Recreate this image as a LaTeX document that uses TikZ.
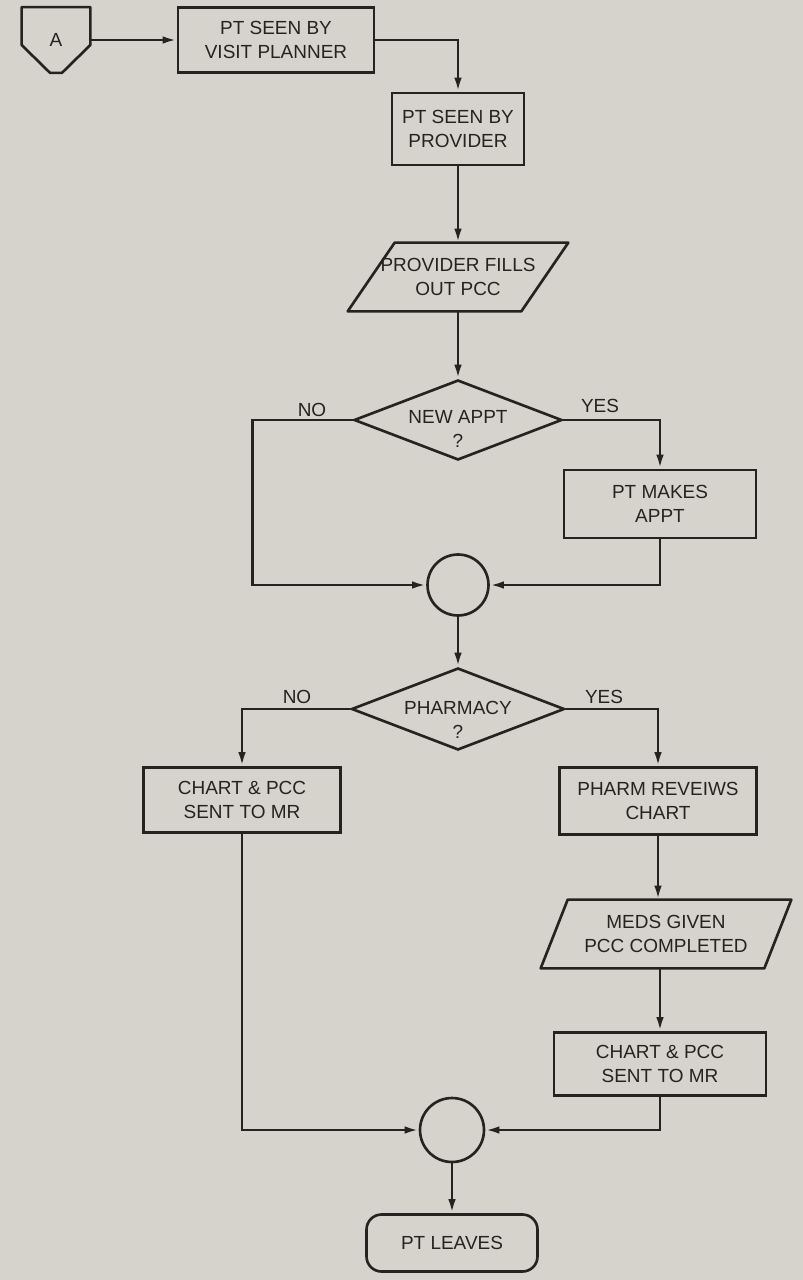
\documentclass[tikz,border=0pt]{standalone}
\usepackage{fontspec}
\setmainfont{Liberation Sans}
\usetikzlibrary{shapes.geometric,arrows.meta}
\definecolor{paper}{RGB}{214,211,204}
\definecolor{ink}{RGB}{38,34,32}

\begin{document}
\begin{tikzpicture}[x=0.02cm,y=-0.02cm,
  every node/.style={font=\fontsize{10.8}{13.6}\selectfont, text=ink, align=center, inner sep=0pt},
  proc/.style={draw=ink, line width=1.5pt, rectangle},
  io/.style={rectangle},
  slanted/.style={draw=ink, line width=1.5pt, line join=round},
  decision/.style={draw=ink, line width=1.5pt, diamond},
  junction/.style={draw=ink, line width=1.5pt, circle, minimum size=1.22cm},
  terminal/.style={draw=ink, line width=1.5pt, rectangle, rounded corners=0.3cm},
  flow/.style={draw=ink, line width=1.5pt, -{Latex[length=2.8mm,width=1.5mm]}}]
\fill[paper] (0,0) rectangle (803,1280);
\useasboundingbox (0,0) rectangle (803,1280);

\node (conA) at (56,40) [minimum width=1.36cm, minimum height=1.3cm] {A};
\draw[slanted] (conA.north west) -- (conA.north east) -- ([yshift=-0.1cm]conA.east)
  -- ([xshift=0.12cm]conA.south) -- ([xshift=-0.12cm]conA.south) -- ([yshift=-0.1cm]conA.west) -- cycle;

\node[proc, minimum width=3.92cm, minimum height=1.3cm] (visit) at (276,40) {PT SEEN BY\\VISIT PLANNER};
\node[proc, minimum width=2.64cm, minimum height=1.44cm] (provider) at (458,129) {PT SEEN BY\\PROVIDER};
\node[io, minimum width=3.46cm, minimum height=1.36cm] (fills) at (458,277) {PROVIDER FILLS\\OUT PCC};
\draw[slanted] ([xshift=-0.47cm]fills.south west) -- ([xshift=0.47cm]fills.north west)
  -- ([xshift=0.47cm]fills.north east) -- ([xshift=-0.47cm]fills.south east) -- cycle;
\node[decision, aspect=2.6, minimum width=4.16cm, minimum height=1.6cm,
  label={[yshift=-0.18cm]center:{NEW APPT\\?}}] (newappt) at (458,420) {};
\node[proc, minimum width=3.84cm, minimum height=1.36cm] (makes) at (660,504) {PT MAKES\\APPT};
\node[junction] (jn1) at (458,585) {};
\node[decision, aspect=2.6, minimum width=4.26cm, minimum height=1.64cm,
  label={[yshift=-0.22cm]center:{PHARMACY\\?}}] (pharmacy) at (458,709) {};
\node[proc, minimum width=3.94cm, minimum height=1.3cm] (sentA) at (242,800) {CHART \& PCC\\SENT TO MR};
\node[proc, minimum width=3.94cm, minimum height=1.34cm] (reviews) at (658,801) {PHARM REVEIWS\\CHART};
\node[io, minimum width=4.46cm, minimum height=1.36cm] (meds) at (666,934) {MEDS GIVEN\\PCC COMPLETED};
\draw[slanted] ([xshift=-0.27cm]meds.south west) -- ([xshift=0.27cm]meds.north west)
  -- ([xshift=0.27cm]meds.north east) -- ([xshift=-0.27cm]meds.south east) -- cycle;
\node[proc, minimum width=4.24cm, minimum height=1.26cm] (sentB) at (660,1064) {CHART \& PCC\\SENT TO MR};
\node[junction, minimum size=1.28cm] (jn2) at (452,1130) {};
\node[terminal, minimum width=3.42cm, minimum height=1.14cm] (leaves) at (452,1243) {PT LEAVES};

\node (no1) at (312,410) {NO};
\node (yes1) at (600,406) {YES};
\node (no2) at (297,697) {NO};
\node (yes2) at (604,697) {YES};

\draw[flow] (conA.east) -- (visit.west);
\draw[flow] (visit.east) -| (provider.north);
\draw[flow] (provider) -- (fills);
\draw[flow] (fills) -- (newappt);
\draw[flow] (newappt.west) -- ++(-100,0) |- (jn1.west);
\draw[flow] (newappt.east) -| (makes.north);
\draw[flow] (makes.south) |- (jn1.east);
\draw[flow] (jn1) -- (pharmacy);
\draw[flow] (pharmacy.west) -| (sentA.north);
\draw[flow] (pharmacy.east) -| (reviews.north);
\draw[flow] (reviews.south) -- (reviews.south |- meds.north);
\draw[flow] (meds.south -| sentB.north) -- (sentB.north);
\draw[flow] (sentA.south) |- (jn2.west);
\draw[flow] (sentB.south) |- (jn2.east);
\draw[flow] (jn2) -- (leaves);
\end{tikzpicture}
\end{document}
